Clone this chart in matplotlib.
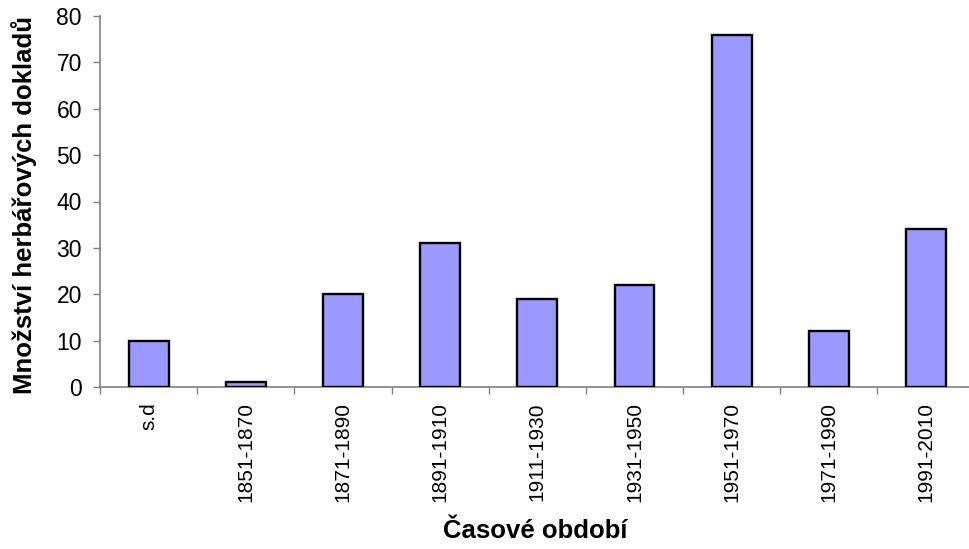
import matplotlib
matplotlib.use("Agg")
import matplotlib.pyplot as plt

categories = ["s.d", "1851-1870", "1871-1890", "1891-1910", "1911-1930",
              "1931-1950", "1951-1970", "1971-1990", "1991-2010"]
counts = [10, 1, 20, 31, 19, 22, 76, 12, 34]
y_ticks = [0, 10, 20, 30, 40, 50, 60, 70, 80]

plt.rcParams["font.family"] = ["Liberation Sans", "DejaVu Sans"]

W, H = 969, 549
fig = plt.figure(figsize=(W / 100, H / 100), dpi=100)
left, right, top, bottom = 100, 974.6, 16, 387
ax = fig.add_axes([left / W, 1 - bottom / H, (right - left) / W, (bottom - top) / H])

x = list(range(len(categories)))
ax.bar(x, counts, width=0.41, color="#9999FF", edgecolor="black", linewidth=1.7, zorder=3)

ax.set_xlim(-0.5, len(categories) - 0.5)
ax.set_ylim(0, 80)
ax.set_yticks(y_ticks)
ax.set_xticks([i - 0.5 for i in range(len(categories) + 1)])
ax.set_xticklabels([])
ax.set_xticks(x, minor=True)
ax.set_xticklabels(categories, minor=True, rotation=90, fontsize=15)
ax.tick_params(axis="x", which="minor", length=0, pad=11)
ax.tick_params(axis="x", which="major", length=5, width=1, color="#808080", direction="out")
ax.tick_params(axis="y", length=5, width=1, color="#808080", direction="out", labelsize=16.5, pad=8)

for s in ["top", "right"]:
    ax.spines[s].set_visible(False)
for s in ["left", "bottom"]:
    ax.spines[s].set_color("#808080")
    ax.spines[s].set_linewidth(1.2)

fig.text(24 / W, 1 - 205 / H, "Množství herbářových dokladů", rotation=90,
         ha="center", va="center", fontsize=18.5, fontweight="bold")
fig.text(535 / W, 1 - 531 / H, "Časové období", ha="center", va="center",
         fontsize=18.5, fontweight="bold")

fig.savefig("out.png", dpi=100)
